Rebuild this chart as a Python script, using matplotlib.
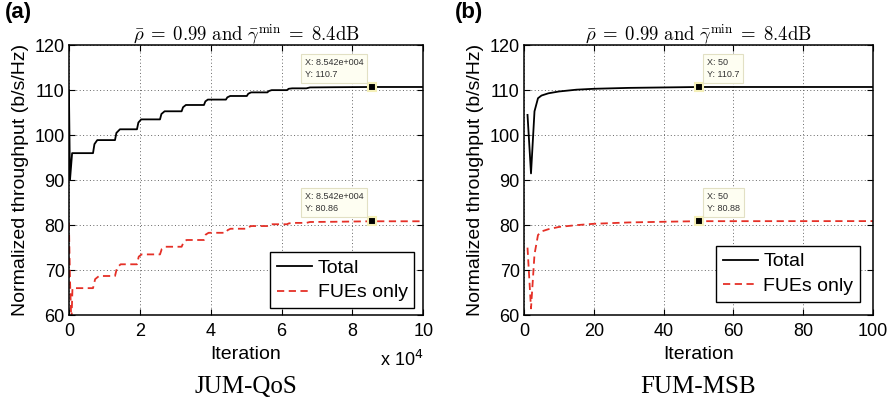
import matplotlib
matplotlib.use("Agg")
import matplotlib.pyplot as plt

plt.rcParams['font.family'] = ['Liberation Sans', 'DejaVu Sans']
plt.rcParams['mathtext.fontset'] = 'cm'

# panel (a): JUM-QoS, iteration in units of 1e4
iter_a = [0, 0.03, 0.09, 0.68, 0.72, 0.80, 1.30, 1.34, 1.44, 1.92, 1.96, 2.04,
          2.57, 2.61, 2.70, 3.18, 3.22, 3.30, 3.81, 3.85, 3.92, 4.43, 4.47, 4.55,
          5.02, 5.06, 5.14, 5.60, 5.64, 5.72, 6.15, 6.20, 6.30, 6.70, 6.80, 7.50,
          8.542, 10.0]
total_a = [110.0, 90.0, 96.0, 96.0, 98.0, 98.9, 98.9, 100.5, 101.3, 101.3, 102.8, 103.5,
           103.5, 104.7, 105.3, 105.3, 106.2, 106.7, 106.7, 107.5, 107.9, 107.9, 108.4, 108.7,
           108.7, 109.2, 109.5, 109.5, 109.8, 110.0, 110.0, 110.3, 110.4, 110.4, 110.6, 110.65,
           110.7, 110.7]
iter_fue_a = [0, 0.03, 0.07, 0.10, 0.68, 0.74, 0.85, 1.30, 1.36, 1.46, 1.92, 1.97, 2.05,
              2.57, 2.62, 2.72, 3.18, 3.24, 3.32, 3.81, 3.86, 3.94, 4.43, 4.48, 4.56,
              5.02, 5.07, 5.15, 5.60, 5.65, 5.73, 6.15, 6.21, 6.32, 6.70, 6.80, 7.50,
              8.542, 10.0]
fue_a = [80.5, 68.0, 58.0, 66.0, 66.0, 68.0, 68.7, 68.7, 70.6, 71.3, 71.3, 73.0, 73.5,
         73.5, 74.7, 75.2, 75.2, 76.3, 76.7, 76.7, 77.9, 78.3, 78.3, 78.9, 79.2,
         79.2, 79.6, 79.8, 79.8, 80.1, 80.2, 80.2, 80.4, 80.5, 80.5, 80.7, 80.75,
         80.86, 80.86]
tip_a = [(8.542, 110.7, "X: 8.542e+004\nY: 110.7"), (8.542, 80.86, "X: 8.542e+004\nY: 80.86")]

# panel (b): FUM-MSB
iter_b = [1, 2, 3, 4, 5, 7, 10, 15, 20, 30, 40, 50, 100]
total_b = [104.5, 91.5, 105.3, 108.2, 108.8, 109.3, 109.7, 110.1, 110.3, 110.5, 110.6, 110.7, 110.7]
fue_b = [75.0, 61.5, 73.5, 77.8, 78.6, 79.1, 79.6, 80.0, 80.3, 80.6, 80.75, 80.88, 80.9]
tip_b = [(50, 110.7, "X: 50\nY: 110.7"), (50, 80.88, "X: 50\nY: 80.88")]

title = r"$\bar{\rho}\;=\;0.99\ \mathrm{and}\ \bar{\gamma}^{\min}\;=\;8.4\mathrm{dB}$"
RED = '#E53027'

fig = plt.figure(figsize=(8.95, 4.03), dpi=100)
ax_a = fig.add_axes([0.077, 0.218, 0.396, 0.670])
ax_b = fig.add_axes([0.5855, 0.218, 0.390, 0.670])


def style_axes(ax, xmax, xticks):
    ax.set_xlim(0, xmax)
    ax.set_ylim(60, 120)
    ax.set_xticks(xticks)
    ax.set_yticks(range(60, 121, 10))
    ax.grid(True, linestyle=(0, (1, 2.5)), color='0.4', linewidth=0.7)
    ax.tick_params(direction='in', top=True, right=True, labelsize=13, length=4, width=0.8, pad=3)
    ax.tick_params(axis='x', pad=6)
    for sp in ax.spines.values():
        sp.set_linewidth(1.1)
    ax.set_xlabel("Iteration", fontsize=14, labelpad=4)
    ax.set_ylabel("Normalized throughput (b/s/Hz)", fontsize=14, labelpad=4)
    ax.set_title(title, fontsize=13.5, pad=3)


def data_tips(ax, tips, offset, ha):
    for x, y, txt in tips:
        ax.plot(x, y, 's', color='black', markersize=6, markeredgecolor='#F5F0B8',
                markeredgewidth=1.5, zorder=5)
        ax.annotate(txt, (x, y), xytext=offset, textcoords='offset points', ha=ha, va='bottom',
                    multialignment='left', fontsize=6.5, color='#333333', linespacing=1.4,
                    bbox=dict(boxstyle='square,pad=0.45', fc='#FEFEF2', ec='#E2E0C4', lw=0.8),
                    zorder=6)


def add_legend(ax, anchor):
    leg = ax.legend(loc='lower right', bbox_to_anchor=anchor, borderaxespad=0, fontsize=14,
                    frameon=True, fancybox=False, edgecolor='black', framealpha=1,
                    handlelength=1.8, handletextpad=0.3, borderpad=0.35, labelspacing=0.35)
    leg.get_frame().set_linewidth(1.0)


# (a)
ax_a.plot(iter_a, total_a, color='black', lw=1.3, label='Total')
ax_a.plot(iter_fue_a, fue_a, color=RED, lw=1.3, dashes=(4, 2.5), label='FUEs only')
style_axes(ax_a, 10, range(0, 11, 2))
data_tips(ax_a, tip_a, (-6, 6), 'right')
add_legend(ax_a, (0.975, 0.026))
ax_a.text(1.0, -0.13, r"x 10$^{4}$", transform=ax_a.transAxes, ha='right', va='top', fontsize=13,
          math_fontfamily='dejavusans')

# (b)
ax_b.plot(iter_b, total_b, color='black', lw=1.3, label='Total')
ax_b.plot(iter_b, fue_b, color=RED, lw=1.3, dashes=(4, 2.5), label='FUEs only')
style_axes(ax_b, 100, range(0, 101, 20))
data_tips(ax_b, tip_b, (6, 6), 'left')
add_legend(ax_b, (0.963, 0.05))

fig.text(0.006, 0.995, "(a)", fontsize=16, fontweight='bold', ha='left', va='top')
fig.text(0.508, 0.995, "(b)", fontsize=16, fontweight='bold', ha='left', va='top')
fig.text(0.275, 0.04, "JUM-QoS", fontsize=18, family='Liberation Serif', ha='center', va='center')
fig.text(0.78, 0.04, "FUM-MSB", fontsize=18, family='Liberation Serif', ha='center', va='center')

fig.savefig("out.png", dpi=100)
